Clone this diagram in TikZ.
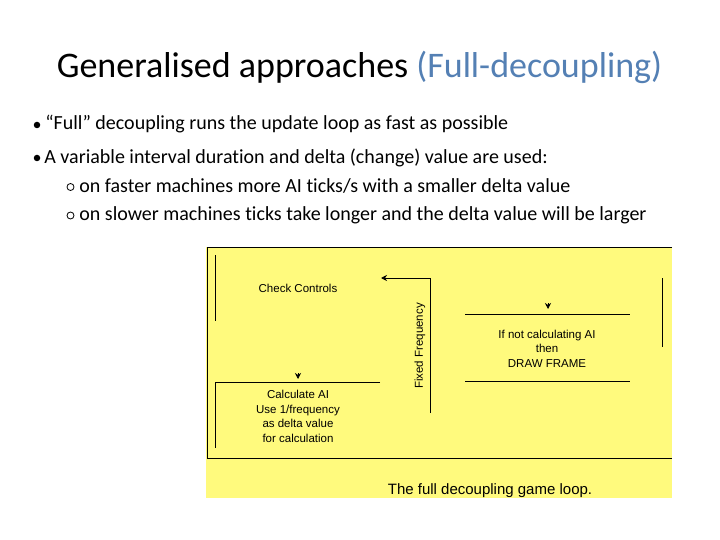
\documentclass[tikz,border=0pt]{standalone}
\usepackage{fontspec}
\setmainfont{Carlito}[Ligatures=NoCommon]
\newfontfamily\diagfont{Liberation Sans}
\usepackage{xcolor}
\usetikzlibrary{arrows.meta}
\definecolor{titleblue}{RGB}{84,128,180}
\definecolor{loopyellow}{RGB}{255,250,125}
\tikzset{every picture/.style={line width=0.75pt}}
\tikzset{
  slidetext/.style={anchor=base west, inner sep=0pt, font=\fontsize{20}{24}\selectfont},
  looptext/.style={inner sep=0pt, align=center, font=\diagfont\fontsize{11.5}{14.5}\selectfont},
  looptip/.style={-{Stealth[length=6pt,width=6pt]}},
  bulletdot/.style={circle, fill, inner sep=0pt, minimum size=6.5pt},
  bulletring/.style={circle, draw, line width=0.8pt, inner sep=0pt, minimum size=7pt},
}
\begin{document}
\begin{tikzpicture}[x=1pt,y=-1pt]
\useasboundingbox (0,0) rectangle (720,540);
\node[anchor=base, inner sep=0pt, font=\fontsize{36}{40}\selectfont] (title) at (359.5,78)
  {Generalised approaches \textcolor{titleblue}{(Full-decoupling)}};
\node[bulletdot] (b1) at (37,125) {};
\node[slidetext] (t1) at (45,130) {“Full” decoupling runs the update loop as fast as possible};
\node[bulletdot] (b2) at (37,158) {};
\node[slidetext] (t2) at (44,163.5) {A variable interval duration and delta (change) value are used:};
\node[bulletring] (s1) at (70.5,187) {};
\node[slidetext] (t3) at (79,192.5) {on faster machines more AI ticks/s with a smaller delta value};
\node[bulletring] (s2) at (70.5,215.5) {};
\node[slidetext] (t4) at (79,221) {on slower machines ticks take longer and the delta value will be larger};
% game loop picture
\fill[loopyellow] (206,247) rectangle (672,498);
\draw (672,247) -- (207,247) -- (207,458) -- (672,458);
\node[looptext] (check) at (298,288) {Check Controls};
\node[looptext] (calc) at (298,416.5) {Calculate AI\\Use 1/frequency\\as delta value\\for calculation};
\node[looptext] (draw) at (547,348.5) {If not calculating AI\\then\\DRAW FRAME};
\node[looptext, rotate=90] (freq) at (420,346) {Fixed Frequency};
\node[anchor=base, inner sep=0pt, font=\diagfont\fontsize{15}{18}\selectfont] (caption) at (490,494)
  {The full decoupling game loop.};
\draw (215,255) -- (215,321);
\draw (380,382) -- (215,382) -- (215,448);
\draw (465,314) -- (630,314);
\draw (465,381) -- (630,381);
\draw (662,278) -- (662,347);
\coordinate (ffbot) at (430,413);
\coordinate (fftip) at (381,278);
\draw[looptip] (ffbot) |- (fftip);
\draw[looptip] (298,373) -- (298,379);
\draw[looptip] (548,303) -- (548,309);
\end{tikzpicture}
\end{document}
